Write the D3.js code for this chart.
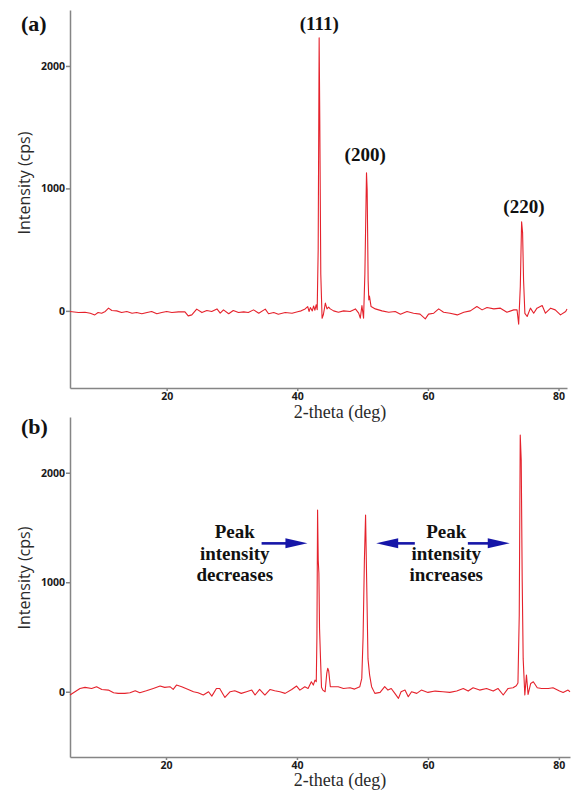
<!DOCTYPE html>
<html>
<head>
<meta charset="utf-8">
<script src="https://cdn.jsdelivr.net/npm/d3@7"></script>
<style>
  html, body { margin: 0; padding: 0; background: #fff; }
  svg { display: block; }
  .axis path, .axis line { stroke: #858585; stroke-width: 1.5; }
  .axis text { font-family: "Open Sans", sans-serif; font-weight: 700; font-size: 10.5px; fill: #1a1a1a; }
  .ytitle { font-family: "Open Sans", sans-serif; font-weight: 400; font-size: 16px; fill: #2a2a2a; }
  .xtitle { font-family: "Liberation Serif", serif; font-size: 18px; fill: #2a2a2a; }
  .plabel { font-family: "Liberation Serif", serif; font-weight: 700; font-size: 22px; fill: #111; }
  .hkl { font-family: "Liberation Serif", serif; font-weight: 700; font-size: 19px; fill: #111; }
  .note { font-family: "Liberation Serif", serif; font-weight: 700; font-size: 19px; fill: #111; }
</style>
</head>
<body>
<svg id="chart" width="574" height="790"></svg>
<script>
// XRD pattern (a): 2-theta (deg) and intensity (cps)
const thetaA = [5.2, 6.5, 7.5, 8.3, 9.0, 9.5, 10.05, 10.6, 11.1, 11.6, 12.35, 13.1, 13.9, 14.7, 15.4, 16.2, 17.0, 17.7, 18.5, 19.25,
  20.0, 20.8, 21.8, 22.8, 23.3, 23.85, 24.6, 25.4, 26.15, 26.9, 27.7, 28.2, 28.7, 29.5, 30.2, 31.0, 31.8, 32.5, 33.3, 34.1,
  35.1, 35.6, 36.4, 37.1, 38.15, 39.2, 40.2, 40.6, 41.2, 41.6, 41.8, 42.0, 42.3, 42.5, 42.7, 42.9, 43.05, 43.2, 43.35, 43.45,
  43.6, 43.8, 44.0, 44.3, 44.55, 44.8, 45.05, 45.56, 46.3, 47.1, 48.1, 48.9, 49.4, 49.65, 49.9, 50.15, 50.35, 50.6, 50.7, 50.85,
  50.95, 51.05, 51.3, 51.95, 52.97, 54.0, 55.0, 55.8, 56.8, 57.8, 58.8, 59.6, 60.1, 60.9, 61.65, 62.4, 63.4, 64.5, 65.5, 66.5,
  67.5, 68.3, 69.05, 70.1, 71.1, 72.1, 73.15, 73.65, 73.9, 74.15, 74.35, 74.5, 74.65, 74.85, 75.2, 75.7, 76.2, 76.7, 77.5, 78.0,
  78.8, 79.5, 80.3, 81.1, 81.3];
const intensityA = [-5, -14, -11, -19, -33, -14, -19, -5, 22, 3, 0, -14, -5, -19, -14, -24, -14, -5, -24, -14,
  -5, -14, -8, -8, -41, -33, 14, -14, 3, -5, 16, -19, 8, -24, 3, -14, -8, -14, 8, -19,
  14, -24, -14, -27, -14, -19, -5, 0, 16, 35, -5, 27, 0, 40, 5, 50, 10, 500, 2229, 1530,
  300, -60, -30, 63, 16, 30, 16, 0, -11, 0, -5, 16, -19, -60, 44, -60, 300, 1127, 990, 250,
  90, 120, 35, 16, 0, -11, -5, -27, -5, -19, -27, -65, -27, -19, 16, -11, -19, -33, -11, 0,
  35, 8, 27, 16, 22, -11, 8, 8, -109, 200, 727, 640, 250, -20, -46, 22, -19, 22, 44, -19,
  22, 8, -33, -5, 16];

// XRD pattern (b)
const thetaB = [5.34, 6.1, 6.87, 7.63, 8.65, 9.4, 10.2, 11.2, 12.0, 12.7, 13.7, 14.5, 15.3, 16.0, 17.0, 18.06, 19.1, 19.8, 20.6, 21.1,
  21.6, 22.4, 23.4, 24.2, 24.9, 25.7, 26.5, 27.0, 27.7, 28.2, 29.0, 29.8, 30.5, 31.5, 32.3, 33.1, 33.6, 34.3, 35.1, 35.9,
  36.6, 37.4, 38.2, 39.2, 39.95, 40.45, 41.2, 41.7, 42.2, 42.5, 42.75, 42.95, 43.05, 43.15, 43.25, 43.35, 43.45, 43.6, 43.75, 43.95,
  44.3, 44.55, 44.7, 44.85, 45.1, 45.5, 46.3, 47.1, 48.1, 48.8, 49.6, 49.9, 50.1, 50.3, 50.48, 50.65, 50.85, 51.1, 51.4, 51.9,
  52.7, 53.4, 53.9, 54.4, 54.95, 55.5, 55.9, 56.5, 57.0, 57.5, 58.3, 59.0, 60.0, 61.1, 62.3, 63.35, 64.4, 65.4, 66.15, 66.9,
  67.9, 68.95, 69.97, 70.7, 71.5, 72.25, 73.0, 73.5, 73.75, 73.95, 74.1, 74.25, 74.4, 74.55, 74.8, 75.05, 75.3, 75.7, 76.1, 76.7,
  77.35, 78.4, 79.1, 80.1, 80.65, 81.4, 81.7];
const intensityB = [-30, 0, 30, 40, 30, 46, 21, 15, -9, -15, -15, -9, 9, -9, 9, 30, 52, 40, 46, 21,
  61, 46, 21, 0, -9, -30, 0, -40, 30, 30, -52, 0, 9, -15, 0, 15, -30, 21, -30, 21,
  9, 0, -15, 21, 52, 15, 46, 30, 91, 61, 106, 91, 500, 1659, 1200, 1084, 580, 300, 40, 15,
  0, 167, 214, 190, 46, 46, 46, 30, 36, 24, 46, 122, 500, 1200, 1614, 1000, 300, 152, 46, -15,
  -6, 46, 15, 30, -15, -61, 0, 15, -46, 0, -15, 15, -6, 6, 0, -6, 6, 30, 6, 36,
  15, 30, 6, 30, -30, 30, 36, 55, 80, 700, 2344, 2115, 1019, 300, -30, 152, -24, 76, 91, 36,
  30, 30, 36, 6, -6, 15, 0];

const xTicks = [20, 40, 60, 80];
const yTicks = [0, 1000, 2000];

// Miller indices of the reflections in (a): [label, 2-theta, height of label baseline]
const hklLabels = [["(111)", 43.36, 2290], ["(200)", 50.4, 1225], ["(220)", 74.7, 800]];

// Annotations in (b)
const noteLeft = ["Peak", "intensity", "decreases"];
const noteRight = ["Peak", "intensity", "increases"];
const noteLeftX = 30.5, noteRightX = 62.8, noteY = 1400;
// arrows: [from 2-theta, to 2-theta, intensity]
const arrows = [[34.6, 41.6, 1355], [58.0, 52.1, 1355], [66.1, 72.5, 1355]];

const svg = d3.select("#chart");

const panels = [
  { tag: "(a)", theta: thetaA, val: intensityA, left: 70, right: 567, top: 10, bottom: 388,
    xd: [5.2, 81.3], yd: [-630, 2457], labelY: 31, titleY: 418 },
  { tag: "(b)", theta: thetaB, val: intensityB, left: 70, right: 570, top: 417, bottom: 757,
    xd: [5.34, 81.7], yd: [-596, 2509], labelY: 434, titleY: 786 }
];

panels.forEach((p, i) => {
  const x = d3.scaleLinear().domain(p.xd).range([p.left, p.right]);
  const y = d3.scaleLinear().domain(p.yd).range([p.bottom, p.top]);
  p.x = x; p.y = y;
  const g = svg.append("g");

  g.append("g").attr("class", "axis")
    .attr("transform", `translate(0,${p.bottom})`)
    .call(d3.axisBottom(x).tickValues(xTicks).tickFormat(d3.format("d"))
      .tickSize(3).tickSizeOuter(0).tickPadding(1))
    .call(a => a.selectAll("text").attr("dy", "0.8em"));

  g.append("g").attr("class", "axis")
    .attr("transform", `translate(${p.left},0)`)
    .call(d3.axisLeft(y).tickValues(yTicks).tickFormat(d3.format("d"))
      .tickSize(4).tickSizeOuter(0).tickPadding(1));

  const line = d3.line().x((d, k) => x(p.theta[k])).y(d => y(d));
  g.append("path")
    .datum(p.val)
    .attr("fill", "none")
    .attr("stroke", "#e5222c")
    .attr("stroke-width", 1.1)
    .attr("stroke-linejoin", "round")
    .attr("d", line);

  g.append("text").attr("class", "plabel").attr("x", 21).attr("y", p.labelY).text(p.tag);

  g.append("text").attr("class", "xtitle")
    .attr("x", 340).attr("y", p.titleY).attr("text-anchor", "middle").text("2-theta (deg)");

  const ym = i === 0 ? 183 : 578;
  g.append("text").attr("class", "ytitle")
    .attr("transform", `translate(30,${ym}) rotate(-90)`)
    .attr("text-anchor", "middle").text("Intensity (cps)");
});

// reflection labels on (a)
const pa = panels[0];
svg.append("g").selectAll("text").data(hklLabels).join("text")
  .attr("class", "hkl").attr("text-anchor", "middle")
  .attr("x", d => pa.x(d[1])).attr("y", d => pa.y(d[2])).text(d => d[0]);

// annotations on (b)
const pb = panels[1];
function note(lines, xv) {
  const t = svg.append("text").attr("class", "note").attr("text-anchor", "middle")
    .attr("x", pb.x(xv)).attr("y", pb.y(noteY));
  lines.forEach((s, k) => t.append("tspan").attr("x", pb.x(xv)).attr("dy", k === 0 ? 0 : 21.5).text(s));
}
note(noteLeft, noteLeftX);
note(noteRight, noteRightX);

const arrowColor = "#1616a8";
arrows.forEach(([a, b, v]) => {
  const x0 = pb.x(a), x1 = pb.x(b), yy = pb.y(v);
  const dir = Math.sign(x1 - x0);
  const headLen = 22, headHalf = 5;
  svg.append("line")
    .attr("x1", x0).attr("x2", x1 - dir * headLen + dir * 2)
    .attr("y1", yy).attr("y2", yy)
    .attr("stroke", arrowColor).attr("stroke-width", 2.6);
  svg.append("path")
    .attr("d", `M${x1},${yy} L${x1 - dir * headLen},${yy - headHalf} L${x1 - dir * headLen},${yy + headHalf} Z`)
    .attr("fill", arrowColor);
});
</script>
</body>
</html>
